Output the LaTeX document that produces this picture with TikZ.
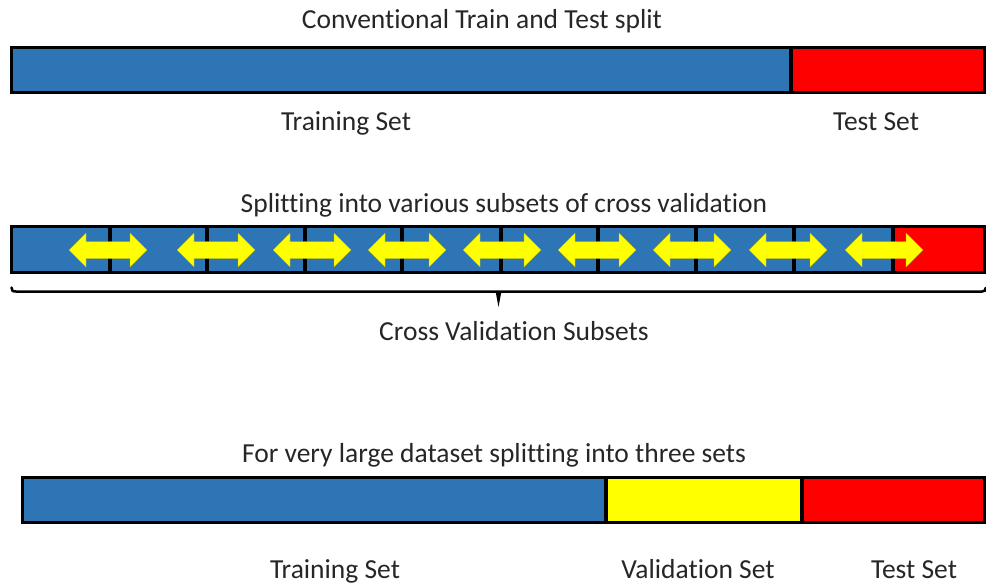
\documentclass[tikz,border=0pt]{standalone}
\usepackage{fontspec}
\setmainfont[Ligatures={NoCommon}]{Carlito}
\definecolor{tblue}{HTML}{2E75B6}
\definecolor{tred}{HTML}{FF0000}
\definecolor{tyellow}{HTML}{FFFF00}
\begin{document}
\begin{tikzpicture}[x=1pt,y=-1pt,
  frame/.style={draw=black,line width=3.5pt},
  divider/.style={draw=black,line width=3.5pt},
  lbl/.style={anchor=base,inner sep=0pt,font=\fontsize{27.5}{31}\selectfont,text=black!85},
  yarrow/.style={fill=tyellow,draw=tyellow!70!black,line width=0.3pt}]
\useasboundingbox (0,0) rectangle (986,586);

% ---- top: conventional split
\node[lbl] (t1) at (482,29) {Conventional Train and Test split};
\fill[tblue] (11.5,47.5) rectangle (791,92.5);
\fill[tred] (791,47.5) rectangle (984.5,92.5);
\draw[frame] (11.5,47.5) rectangle (984.5,92.5);
\draw[divider] (791,47.5) -- (791,92.5);
\node[lbl] (train1) at (346,130) {Training Set};
\node[lbl] (test1) at (876,130) {Test Set};

% ---- middle: cross validation
\node[lbl] (t2) at (504,212) {Splitting into various subsets of cross validation};
\fill[tblue] (11.5,226.5) rectangle (893,272.5);
\fill[tred] (893,226.5) rectangle (984.5,272.5);
\draw[frame] (11.5,226.5) rectangle (984.5,272.5);
\foreach \d in {110,207,305,402,501,598,696,794,893}
  \draw[divider] (\d,226.5) -- (\d,272.5);
\foreach \c in {108,216,312,407,502,597,692,788,884}
  \filldraw[yarrow] (\c-39,250) -- (\c-22,233) -- (\c-22,241.5) -- (\c+22,241.5)
     -- (\c+22,233) -- (\c+39,250) -- (\c+22,267) -- (\c+22,258.5)
     -- (\c-22,258.5) -- (\c-22,267) -- cycle;
% brace
\draw[line width=2.5pt,line cap=round] (11.5,287.5) .. controls (11.5,290.5) and (12.5,291.5) .. (16,291.5)
  -- (982,291.5) .. controls (984.5,291.5) and (985.5,290.5) .. (985.5,288);
\fill[black] (495.5,291) -- (498.5,307) -- (501.5,291) -- cycle;
\node[lbl] (cvs) at (514,340) {Cross Validation Subsets};

% ---- bottom: three sets
\node[lbl] (t3) at (494,462) {For very large dataset splitting into three sets};
\fill[tblue] (22.5,477.5) rectangle (606,522.5);
\fill[tyellow] (606,477.5) rectangle (802,522.5);
\fill[tred] (802,477.5) rectangle (984.5,522.5);
\draw[frame] (22.5,477.5) rectangle (984.5,522.5);
\draw[divider] (606,477.5) -- (606,522.5);
\draw[divider] (802,477.5) -- (802,522.5);
\node[lbl] (train3) at (335,578) {Training Set};
\node[lbl] (val3) at (698,578) {Validation Set};
\node[lbl] (test3) at (914,578) {Test Set};
\end{tikzpicture}
\end{document}
